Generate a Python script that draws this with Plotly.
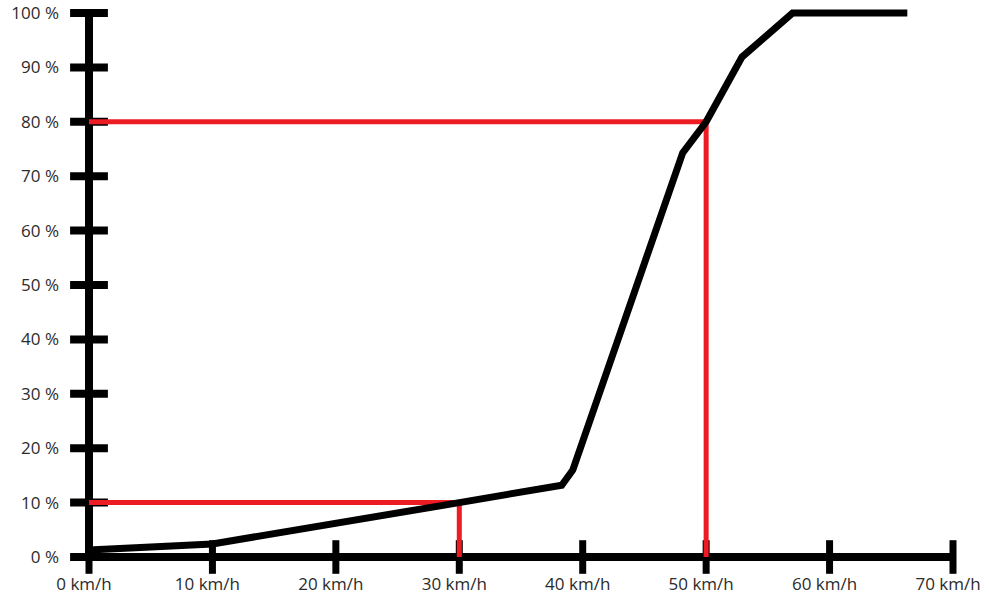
import plotly.graph_objects as go

# ---- data ----
speed_kmh = [0, 10, 30, 38.3, 39.2, 48.1, 50, 52.9, 57, 66.3]
cumulative_pct = [1.3, 2.4, 10, 13.2, 16.0, 74.3, 80, 91.9, 100, 100]

x_ticks = [0, 10, 20, 30, 40, 50, 60, 70]
x_tick_labels = ["0 km/h", "10 km/h", "20 km/h", "30 km/h", "40 km/h", "50 km/h", "60 km/h", "70 km/h"]
y_ticks = [0, 10, 20, 30, 40, 50, 60, 70, 80, 90, 100]
y_tick_labels = ["0 %", "10 %", "20 %", "30 %", "40 %", "50 %", "60 %", "70 %", "80 %", "90 %", "100 %"]

marker_speeds = [30, 50]
marker_pcts = [10, 80]

# ---- layout geometry (body margin removed via post_script) ----
W, H = 989, 596
ml, mr, mt, mb = 64, 16, 2, 24
x0_px, x70_px = 89, 953
y0_px, y100_px = 557, 13
sx = (x70_px - x0_px) / 70.0
sy = (y0_px - y100_px) / 100.0
x_min = -(x0_px - ml) / sx
x_max = 70 + ((W - mr) - x70_px) / sx
y_max = 100 + (y100_px - mt) / sy
y_min = -((H - mb) - y0_px) / sy

fig = go.Figure()

# axis lines
fig.add_trace(go.Scatter(x=[0, 0], y=[min(y_ticks), max(y_ticks)], mode="lines",
                         line=dict(color="black", width=8), hoverinfo="skip", showlegend=False, cliponaxis=False))
fig.add_trace(go.Scatter(x=[min(x_ticks), max(x_ticks)], y=[0, 0], mode="lines",
                         line=dict(color="black", width=8), hoverinfo="skip", showlegend=False, cliponaxis=False))
# tick marks crossing the axes
fig.add_trace(go.Scatter(x=x_ticks, y=[0] * len(x_ticks), mode="markers",
                         marker=dict(symbol="line-ns", size=24, line=dict(color="black", width=7)),
                         hoverinfo="skip", showlegend=False, cliponaxis=False))
fig.add_trace(go.Scatter(x=[0] * len(y_ticks), y=y_ticks, mode="markers",
                         marker=dict(symbol="line-ew", size=27, line=dict(color="black", width=8)),
                         hoverinfo="skip", showlegend=False, cliponaxis=False))

# red guide lines
red = "#ed1c24"
for sp, pc in zip(marker_speeds, marker_pcts):
    fig.add_trace(go.Scatter(x=[0, sp, sp], y=[pc, pc, 0], mode="lines",
                             line=dict(color=red, width=5), hoverinfo="skip", showlegend=False, cliponaxis=False))

# main curve
fig.add_trace(go.Scatter(x=speed_kmh, y=cumulative_pct, mode="lines",
                         line=dict(color="black", width=7), showlegend=False, cliponaxis=False))

font = dict(family="Open Sans", size=17, color="#2b2b2b")
fig.update_layout(
    width=W, height=H, autosize=False,
    margin=dict(l=ml, r=mr, t=mt, b=mb, pad=0, autoexpand=False),
    paper_bgcolor="white", plot_bgcolor="white",
    showlegend=False,
    xaxis=dict(range=[x_min, x_max], tickvals=x_ticks, ticktext=x_tick_labels,
               showgrid=False, zeroline=False, showline=False, ticks="", automargin=False,
               ticklabeloverflow="allow",
               tickfont=font, ticklabelshift=-5, ticklabelstandoff=0, fixedrange=True),
    yaxis=dict(range=[y_min, y_max], tickvals=y_ticks, ticktext=y_tick_labels,
               showgrid=False, zeroline=False, showline=False, ticks="", automargin=False,
               ticklabeloverflow="allow",
               tickfont=font, ticklabelstandoff=4, fixedrange=True),
)

fig.write_html("out.html",
               config={"displayModeBar": False},
               post_script="document.body.style.margin='0';document.body.style.overflow='hidden';")
